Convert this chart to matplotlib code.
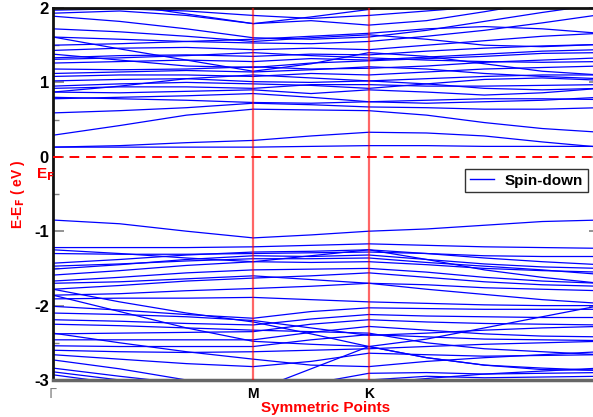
import numpy as np
import matplotlib
matplotlib.use("Agg")
import matplotlib.pyplot as plt

plt.rcParams["font.family"] = ["Liberation Sans", "DejaVu Sans"]

# k-path distances (G - M - K - G), sampled points along the path
kpath = [0.0, 0.577, 1.155, 1.732, 2.232, 2.732, 3.232, 3.732, 4.232, 4.732]
kticks = [0.0, 1.732, 2.732]
klabels = [r"$\Gamma$", "M", "K"]

cond_bands = [
    [0.13, 0.13, 0.13, 0.13, 0.14, 0.15, 0.15, 0.14, 0.14, 0.14],
    [0.13, 0.15, 0.19, 0.22, 0.28, 0.33, 0.32, 0.28, 0.20, 0.13],
    [0.29, 0.42, 0.56, 0.64, 0.63, 0.62, 0.56, 0.46, 0.38, 0.33],
    [0.59, 0.62, 0.66, 0.72, 0.70, 0.67, 0.66, 0.64, 0.64, 0.66],
    [0.80, 0.78, 0.76, 0.73, 0.72, 0.74, 0.76, 0.78, 0.78, 0.77],
    [0.87, 0.86, 0.88, 0.90, 0.85, 0.90, 0.87, 0.83, 0.86, 0.92],
    [0.92, 0.94, 0.94, 0.92, 0.97, 0.97, 0.95, 0.95, 0.96, 0.97],
    [1.02, 1.04, 1.05, 1.01, 1.00, 1.02, 1.05, 1.08, 1.10, 1.10],
    [1.08, 1.10, 1.10, 1.08, 1.12, 1.10, 1.14, 1.18, 1.20, 1.22],
    [1.18, 1.17, 1.18, 1.21, 1.18, 1.19, 1.22, 1.27, 1.30, 1.33],
    [1.26, 1.28, 1.30, 1.28, 1.32, 1.30, 1.34, 1.38, 1.42, 1.44],
    [1.33, 1.36, 1.37, 1.35, 1.38, 1.37, 1.42, 1.46, 1.49, 1.51],
    [1.43, 1.46, 1.47, 1.44, 1.46, 1.44, 1.50, 1.56, 1.62, 1.66],
    [1.61, 1.58, 1.55, 1.53, 1.52, 1.55, 1.62, 1.70, 1.80, 1.91],
    [1.89, 1.82, 1.72, 1.60, 1.58, 1.61, 1.70, 1.82, 1.94, 2.05],
    [1.93, 1.96, 1.90, 1.79, 1.88, 1.98, 2.08, 2.15, 2.20, 2.20],
    [2.20, 2.05, 1.92, 1.79, 1.83, 1.77, 1.83, 1.95, 2.08, 2.15],
    [1.61, 1.45, 1.30, 1.15, 1.25, 1.40, 1.35, 1.25, 1.15, 1.10],
    [0.87, 0.95, 1.05, 1.10, 1.06, 1.02, 0.98, 0.92, 0.90, 0.92],
    [1.72, 1.68, 1.62, 1.55, 1.60, 1.64, 1.58, 1.50, 1.48, 1.51],
    [1.31, 1.33, 1.36, 1.40, 1.36, 1.33, 1.30, 1.28, 1.27, 1.28],
    [1.12, 1.14, 1.16, 1.14, 1.17, 1.21, 1.18, 1.12, 1.08, 1.05],
    [0.95, 0.98, 1.00, 0.98, 0.96, 0.92, 0.98, 1.04, 1.06, 1.03],
    [0.78, 0.80, 0.82, 0.85, 0.80, 0.74, 0.72, 0.74, 0.76, 0.80],
    [1.50, 1.52, 1.55, 1.58, 1.62, 1.66, 1.72, 1.75, 1.72, 1.66],
    [1.97, 1.99, 1.96, 1.90, 1.86, 1.90, 1.96, 2.02, 2.05, 2.05],
    [1.38, 1.30, 1.22, 1.20, 1.26, 1.29, 1.32, 1.35, 1.39, 1.40],
]

# valence bands (eV)
val_bands = [
    [-0.85, -0.90, -1.00, -1.09, -1.05, -1.00, -0.97, -0.92, -0.87, -0.85],
    [-1.22, -1.22, -1.22, -1.21, -1.19, -1.17, -1.19, -1.21, -1.22, -1.23],
    [-1.43, -1.38, -1.32, -1.28, -1.27, -1.25, -1.30, -1.36, -1.41, -1.45],
    [-1.51, -1.45, -1.38, -1.33, -1.34, -1.32, -1.38, -1.44, -1.48, -1.50],
    [-1.59, -1.53, -1.46, -1.41, -1.42, -1.41, -1.45, -1.50, -1.53, -1.55],
    [-1.67, -1.62, -1.56, -1.52, -1.51, -1.50, -1.55, -1.62, -1.67, -1.70],
    [-1.78, -1.73, -1.67, -1.63, -1.60, -1.56, -1.62, -1.68, -1.72, -1.74],
    [-1.86, -1.84, -1.80, -1.77, -1.74, -1.70, -1.72, -1.76, -1.78, -1.80],
    [-1.91, -1.90, -1.90, -1.89, -1.92, -1.95, -1.97, -1.99, -2.00, -2.00],
    [-2.01, -2.06, -2.12, -2.17, -2.08, -2.03, -2.04, -2.05, -2.05, -2.05],
    [-2.19, -2.21, -2.24, -2.26, -2.18, -2.12, -2.14, -2.15, -2.16, -2.16],
    [-2.38, -2.37, -2.36, -2.35, -2.25, -2.19, -2.22, -2.24, -2.25, -2.26],
    [-2.46, -2.46, -2.46, -2.46, -2.36, -2.28, -2.33, -2.38, -2.41, -2.42],
    [-2.54, -2.55, -2.55, -2.55, -2.46, -2.39, -2.42, -2.45, -2.46, -2.47],
    [-2.66, -2.72, -2.78, -2.82, -2.75, -2.64, -2.66, -2.68, -2.67, -2.66],
    [-2.84, -2.95, -3.05, -3.15, -2.85, -2.55, -2.70, -2.80, -2.86, -2.87],
    [-2.89, -3.00, -3.10, -3.20, -3.05, -2.91, -2.90, -2.92, -2.91, -2.90],
    [-2.93, -3.05, -3.15, -3.25, -3.10, -3.00, -2.95, -2.97, -2.96, -2.95],
    [-1.78, -1.95, -2.10, -2.22, -2.38, -2.55, -2.45, -2.30, -2.15, -2.00],
    [-1.86, -2.08, -2.30, -2.48, -2.52, -2.55, -2.70, -2.80, -2.84, -2.87],
    [-2.37, -2.50, -2.62, -2.72, -2.80, -2.82, -2.75, -2.70, -2.66, -2.62],
    [-1.25, -1.30, -1.36, -1.41, -1.33, -1.25, -1.38, -1.52, -1.62, -1.70],
    [-1.30, -1.31, -1.31, -1.30, -1.29, -1.28, -1.30, -1.33, -1.34, -1.34],
    [-1.47, -1.44, -1.40, -1.37, -1.37, -1.36, -1.42, -1.47, -1.52, -1.58],
    [-1.70, -1.68, -1.64, -1.60, -1.65, -1.70, -1.78, -1.85, -1.92, -1.97],
    [-2.10, -2.12, -2.15, -2.20, -2.30, -2.40, -2.37, -2.33, -2.30, -2.28],
    [-2.60, -2.62, -2.63, -2.62, -2.60, -2.58, -2.55, -2.52, -2.50, -2.48],
    [-2.73, -2.85, -3.00, -3.10, -3.05, -3.05, -2.98, -2.92, -2.88, -2.84],
    [-2.25, -2.27, -2.30, -2.33, -2.35, -2.37, -2.50, -2.58, -2.62, -2.66],
]

fig = plt.figure(figsize=(5.93, 4.17), dpi=100)
ax = fig.add_axes([53/593, 37/417, 547/593, 372/417])

for band in cond_bands + val_bands:
    ax.plot(kpath, band, color="blue", lw=0.9)

# symmetry lines and fermi level
for kx in kticks[1:]:
    ax.axvline(kx, color="red", alpha=0.6, lw=1.6, zorder=3)
ax.axhline(0, color="red", lw=1.4, ls=(0, (5, 3.5)), zorder=3)

handle, = ax.plot([], [], color="blue", lw=1.0)
leg = fig.legend([handle], ["Spin-down"], loc="upper left",
                 bbox_to_anchor=(465/593, 1 - 169/417), fancybox=False,
                 edgecolor="black", prop={"weight": "bold", "size": 11},
                 handlelength=1.6, borderpad=0.3, handletextpad=0.7,
                 borderaxespad=0)
leg.get_frame().set_linewidth(1.0)

ax.set_xlim(kpath[0], kpath[-1])
ax.set_ylim(-3, 2)
ax.set_yticks([-3, -2, -1, 0, 1, 2])
ax.set_yticks(np.arange(-2.5, 2.0, 1.0), minor=True)
ax.set_yticklabels(["-3", "-2", "-1", "0", "1", "2"], fontsize=12, fontweight="bold")
ax.set_xticks(kticks)
ax.set_xticklabels(klabels)
for lab in ax.get_xticklabels():
    lab.set_fontweight("bold")
    lab.set_fontsize(10)
ax.get_xticklabels()[0].set_color("gray")
ax.get_xticklabels()[0].set_fontweight("normal")

ax.tick_params(axis="y", which="major", direction="in", length=8, width=1.2,
               color="gray", right=True, pad=3)
ax.tick_params(axis="y", which="minor", direction="in", length=4, width=1.0,
               color="gray", right=True)
ax.tick_params(axis="x", length=0, pad=5)

for side in ["top", "left"]:
    ax.spines[side].set_linewidth(2.0)
    ax.spines[side].set_color("#111111")
ax.spines["bottom"].set_linewidth(2.5)
ax.spines["bottom"].set_color("#666666")

fig.text(326/593, 1 - 408/417, "Symmetric Points", color="red", fontsize=11,
         fontweight="bold", ha="center", va="center")
fig.text(18/593, 1 - 194/417, r"E-E$_\mathbf{F}$ ( eV )", color="red", fontsize=10,
         fontweight="bold", rotation=90, ha="center", va="center")
fig.text(36/593, 1 - 175/417, r"E$_\mathbf{F}$", color="red", fontsize=11,
         fontweight="bold", va="center")

plt.savefig("out.png", dpi=100)
plt.close()
